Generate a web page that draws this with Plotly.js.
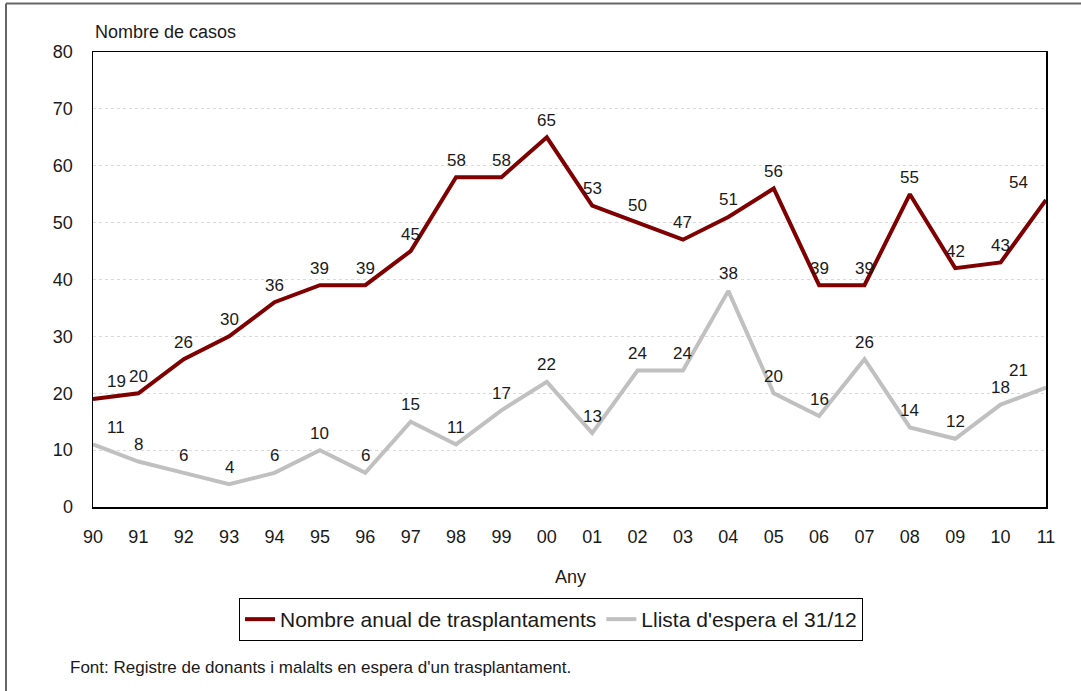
<!DOCTYPE html>
<html>
<head>
<meta charset="utf-8">
<script src="https://cdn.plot.ly/plotly-3.0.1.min.js"></script>
<style>html,body{margin:0;padding:0;background:#fff;}#chart{width:1081px;height:691px;}</style>
</head>
<body>
<div id="chart"></div>
<script>
const years = ["90","91","92","93","94","95","96","97","98","99","00","01","02","03","04","05","06","07","08","09","10","11"];
const trasplantaments = [19,20,26,30,36,39,39,45,58,58,65,53,50,47,51,56,39,39,55,42,43,54];
const llistaEspera = [11,8,6,4,6,10,6,15,11,17,22,13,24,24,38,20,16,26,14,12,18,21];
const yTicks = [0,10,20,30,40,50,60,70,80];

const FONT = "'Liberation Sans Narrow', 'Arial Narrow', 'Liberation Sans', Arial, sans-serif";
const L = 93, R = 1046, T = 52, B = 507, W = 1081, H = 691;
const px = v => (v - L) / (R - L);
const py = v => (B - v) / (B - T);
const idx = years.map((_, i) => i);

const traces = [
  {
    x: idx, y: trasplantaments, name: 'Nombre anual de trasplantaments',
    mode: 'lines', type: 'scatter',
    line: {color: '#7f0000', width: 4}
  },
  {
    x: idx, y: llistaEspera, name: "Llista d'espera el 31/12",
    mode: 'lines', type: 'scatter',
    line: {color: '#c0c0c0', width: 4}
  }
];

function labels(values) {
  const n = values.length;
  return values.map((v, i) => ({
    x: idx[i], y: v, xref: 'x', yref: 'y', text: String(v), showarrow: false,
    xanchor: i === 0 ? 'left' : (i === n - 1 ? 'right' : 'center'),
    xshift: i === 0 ? 12 : (i === n - 1 ? -16 : 0),
    yanchor: 'middle', yshift: 17,
    font: {family: FONT, size: 17, color: '#1a1a1a'}
  }));
}

const layout = {
  width: W, height: H,
  margin: {l: L, r: W - R, t: T, b: H - B},
  paper_bgcolor: '#fff', plot_bgcolor: '#fff',
  font: {family: FONT, size: 17, color: '#1a1a1a'},
  showlegend: true,
  legend: {
    orientation: 'h', x: px(551), xanchor: 'center', y: py(598), yanchor: 'top',
    bordercolor: '#000', borderwidth: 1, font: {family: FONT, size: 21, color: '#1a1a1a'},
    itemwidth: 30, tracegroupgap: 0
  },
  xaxis: {
    range: [0, years.length - 1], tickvals: idx, ticktext: years,
    showgrid: false, zeroline: false,
    showline: true, linecolor: '#000', linewidth: 1.5, mirror: true,
    ticks: '', tickfont: {family: FONT, size: 18, color: '#1a1a1a'},
    ticklabelstandoff: 13
  },
  yaxis: {
    range: [0, 80], tickvals: yTicks, ticktext: yTicks.map(String),
    showgrid: true, gridcolor: '#d9d9d9', griddash: 'dot', gridwidth: 1,
    zeroline: false, showline: true, linecolor: '#000', linewidth: 1.5, mirror: true,
    ticks: '', tickfont: {family: FONT, size: 18, color: '#1a1a1a'},
    ticklabelstandoff: 15
  },
  annotations: [
    ...labels(trasplantaments),
    ...labels(llistaEspera),
    {text: 'Nombre de casos', xref: 'paper', yref: 'paper', x: px(93), y: py(32), xanchor: 'left', yanchor: 'middle', showarrow: false, font: {family: FONT, size: 18, color: '#1a1a1a'}},
    {text: 'Any', xref: 'paper', yref: 'paper', x: px(570), y: py(577), xanchor: 'center', yanchor: 'middle', showarrow: false, font: {family: FONT, size: 18, color: '#1a1a1a'}},
    {text: "Font: Registre de donants i malalts en espera d'un trasplantament.", xref: 'paper', yref: 'paper', x: px(68), y: py(667), xanchor: 'left', yanchor: 'middle', showarrow: false, font: {family: FONT, size: 17, color: '#1a1a1a'}}
  ],
  shapes: [
    {type: 'line', xref: 'paper', yref: 'paper', x0: px(6), x1: px(1081), y0: py(3.5), y1: py(3.5), line: {color: '#666', width: 2}},
    {type: 'line', xref: 'paper', yref: 'paper', x0: px(6), x1: px(6), y0: py(3.5), y1: py(700), line: {color: '#666', width: 2}}
  ]
};

Plotly.newPlot('chart', traces, layout, {displayModeBar: false, staticPlot: true});
</script>
</body>
</html>
